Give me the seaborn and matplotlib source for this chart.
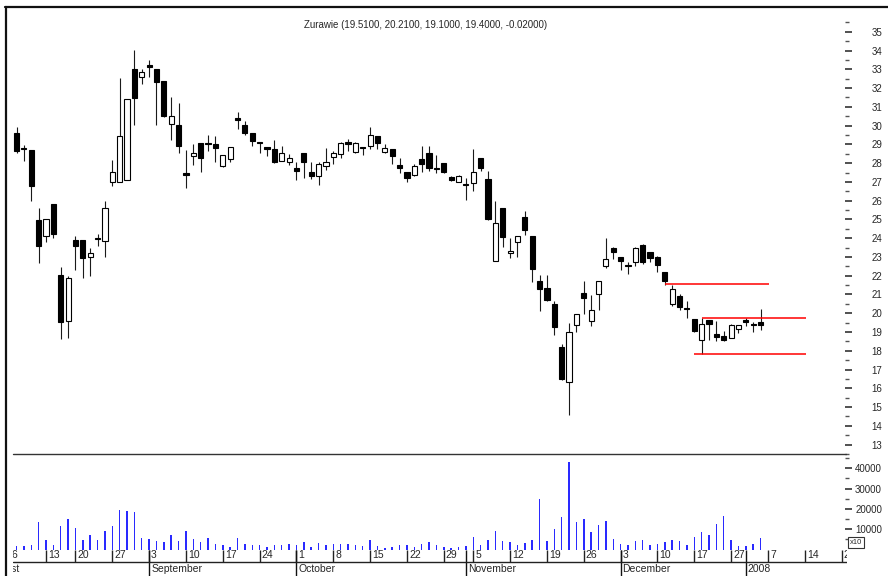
# Imports
import numpy as np
import pandas as pd
import matplotlib.pyplot as plt
import matplotlib.transforms as mtransforms
from matplotlib.lines import Line2D
import seaborn as sns

# daily candles, one per trading day (7 Aug 2007 .. 4 Jan 2008)
opens = [29.63, 28.80, 28.71, 24.98, 24.12, 25.83, 22.02, 19.60, 23.91, 23.91,
         23.01, 24.02, 23.85, 26.98, 26.98, 27.12, 33.04, 32.60, 33.25, 33.00,
         32.35, 30.11, 30.02, 27.42, 28.36, 29.08, 29.06, 29.01, 27.86, 28.22,
         30.43, 30.02, 29.60, 29.12, 28.87, 28.75, 28.13, 28.04, 27.72, 28.53,
         27.55, 27.30, 27.83, 28.31, 28.48, 29.06, 28.57, 28.85, 28.89, 29.42,
         28.60, 28.75, 27.92, 27.55, 27.39, 28.22, 28.53, 27.71, 27.99, 27.25,
         26.98, 26.86, 26.93, 28.25, 27.16, 22.80, 25.62, 23.22, 23.80, 25.13,
         24.12, 21.72, 21.33, 20.48, 18.20, 16.35, 19.39, 21.10, 19.60, 21.01,
         22.53, 23.50, 23.00, 22.55, 22.74, 23.62, 23.27, 23.00, 22.21, 20.48,
         20.94, 20.25, 19.70, 18.59, 19.65, 18.89, 18.77, 18.68, 19.15, 19.57,
         19.44, 19.51]
highs = [29.93, 28.96, 28.71, 25.60, 25.00, 25.83, 22.48, 22.00, 24.12, 23.91,
         23.48, 24.24, 25.99, 28.16, 32.51, 31.43, 34.05, 33.00, 33.52, 33.00,
         32.35, 31.50, 31.22, 28.70, 29.01, 29.08, 29.49, 29.45, 28.45, 28.87,
         30.72, 30.25, 29.60, 29.12, 28.87, 29.24, 28.89, 28.48, 28.08, 28.53,
         28.04, 28.04, 28.83, 28.66, 29.15, 29.28, 29.13, 28.85, 29.95, 29.42,
         29.01, 28.75, 28.30, 27.55, 27.95, 28.89, 28.89, 28.43, 27.99, 27.33,
         27.37, 27.19, 28.75, 28.25, 27.60, 25.97, 25.62, 24.03, 24.12, 25.44,
         24.12, 22.04, 22.04, 20.66, 18.36, 19.47, 19.95, 21.72, 20.97, 21.74,
         24.03, 23.54, 23.00, 22.71, 23.54, 23.71, 23.27, 23.06, 22.21, 21.50,
         21.01, 20.66, 19.70, 19.77, 19.65, 19.60, 19.07, 19.42, 19.35, 19.74,
         19.56, 20.21]
lows = [28.52, 28.13, 25.97, 22.69, 23.80, 24.01, 18.62, 18.68, 22.32, 21.89,
        22.00, 23.59, 23.00, 26.80, 26.98, 27.12, 30.02, 32.23, 32.60, 30.05,
        30.48, 29.22, 28.54, 26.68, 27.90, 27.51, 28.62, 28.04, 27.78, 28.04,
        29.81, 29.51, 28.92, 28.53, 28.36, 28.00, 28.09, 27.92, 27.12, 27.21,
        27.16, 26.84, 27.65, 27.95, 28.25, 28.62, 28.54, 28.43, 28.75, 28.75,
        28.53, 27.95, 27.47, 27.02, 27.33, 27.51, 27.60, 27.47, 27.47, 27.03,
        26.98, 26.04, 26.54, 27.60, 24.97, 22.80, 23.54, 22.97, 23.00, 24.15,
        21.68, 20.13, 20.66, 18.85, 16.47, 14.56, 18.98, 19.95, 19.33, 20.18,
        22.39, 22.88, 22.33, 22.07, 22.53, 22.65, 22.71, 22.21, 21.50, 20.41,
        20.18, 19.77, 19.00, 17.83, 18.59, 18.54, 18.54, 18.68, 18.94, 19.30,
        18.99, 19.10]
closes = [28.66, 28.76, 26.80, 23.61, 25.00, 24.22, 19.54, 21.86, 23.61, 22.92,
          23.20, 23.95, 25.60, 27.51, 29.45, 31.43, 31.45, 32.85, 33.13, 32.35,
          30.51, 30.50, 28.89, 27.38, 28.55, 28.30, 29.00, 28.83, 28.45, 28.87,
          30.28, 29.63, 29.19, 29.08, 28.75, 28.04, 28.53, 28.25, 27.60, 28.04,
          27.33, 27.95, 28.04, 28.53, 29.05, 29.04, 29.05, 28.81, 29.51, 29.05,
          28.78, 28.36, 27.74, 27.19, 27.86, 27.95, 27.74, 27.67, 27.55, 27.10,
          27.33, 26.82, 27.51, 27.72, 25.00, 24.82, 24.05, 23.32, 24.12, 24.45,
          22.35, 21.29, 20.71, 19.28, 16.52, 18.98, 19.95, 20.80, 20.18, 21.74,
          22.88, 23.24, 22.77, 22.51, 23.48, 22.74, 22.95, 22.56, 21.73, 21.30,
          20.36, 20.21, 19.07, 19.45, 19.42, 18.73, 18.55, 19.38, 19.35, 19.55,
          19.35, 19.40]
# volume as shown on the axis (x10)
volumes = [1640, 1640, 2460, 13300, 4600, 2460, 11800, 15100, 10700, 4600,
           6900, 4900, 9000, 11500, 19500, 19200, 18400, 5700, 5200, 4400,
           3900, 6900, 4400, 9300, 5200, 3900, 5700, 2800, 2000, 1150,
           5700, 2800, 2000, 2460, 1150, 2460, 2000, 2800, 2300, 3900,
           1150, 3300, 2000, 2800, 2800, 2800, 2300, 1640, 4900, 1640,
           500, 1150, 2000, 2300, 1150, 2800, 3900, 2000, 1300, 650,
           1150, 1640, 6400, 2000, 4760, 9200, 4270, 3900, 2300, 3400,
           4760, 25100, 4270, 10000, 16200, 43100, 13400, 14900, 8500, 12100,
           14100, 5200, 2600, 2000, 4270, 4600, 2300, 2600, 3600, 4600,
           4100, 2300, 6100, 8500, 7200, 12500, 16600, 4600, 1800, 1800,
           2600, 5600]

# date axis (positions in trading-day index)
week_pos = [-1, 4, 8, 13, 18, 23, 28, 33, 38, 43, 48, 53, 58, 62, 67, 72,
            77, 82, 87, 92, 97, 102, 107, 112]
week_labels = ['6', '13', '20', '27', '3', '10', '17', '24', '1', '8', '15',
               '22', '29', '5', '12', '19', '26', '3', '10', '17', '27', '7',
               '14', '21']
month_pos = [-4.2, 18, 38, 61, 82, 99]
month_labels = ['August', 'September', 'October', 'November', 'December', '2008']

# red support/resistance lines
line_levels = [21.54, 19.77, 17.81]
line_start = [88, 93, 92]
line_end = [102.2, 107.15, 107.15]

title = 'Zurawie (19.5100, 20.2100, 19.1000, 19.4000, -0.02000)'

#
sns.set_theme(style='white')
plt.rcParams['font.family'] = ['Liberation Sans', 'DejaVu Sans']

df = pd.DataFrame({'open': opens, 'high': highs, 'low': lows,
                   'close': closes, 'volume': volumes})
df['idx'] = np.arange(len(df))

W, H = 888, 576
fig = plt.figure(figsize=(W / 100, H / 100), dpi=100)

def fx(px):
    return px / W

def fy(py):
    return 1 - py / H

step = 7.367  # pixels per trading day
xlo, xhi = -1.36, 112.46
ax = fig.add_axes([fx(6.5), fy(454), fx(845 - 6.5), fy(7) - fy(454)])
axv = fig.add_axes([fx(6.5), fy(549.5), fx(845 - 6.5), fy(454) - fy(549.5)])
axd = fig.add_axes([fx(12.5), 0, fx(847 - 12.5), fy(549.5)])

# candles
up = df['close'] >= df['open']
ax.vlines(df['idx'], df['low'], df['high'], color='#1a1a1a', lw=0.8, zorder=1)
body_bot = df[['open', 'close']].min(axis=1)
body_h = (df['close'] - df['open']).abs().clip(lower=0.07)
ax.bar(df['idx'], body_h, bottom=body_bot, width=0.7,
       color=np.where(up, 'white', 'black'), edgecolor='black',
       linewidth=0.8, zorder=2)

for lvl, s, e in zip(line_levels, line_start, line_end):
    ax.hlines(lvl, s, e, color='#ff0000', lw=1.1, zorder=3)

ax.set_xlim(xlo, xhi)
ax.set_ylim(12.64, 36.32)
ax.set_xticks([])
ax.yaxis.tick_right()
ax.set_yticks(range(13, 36))
ax.set_yticks(np.arange(12.5, 36, 1), minor=True)
ax.tick_params(axis='y', which='major', right=True, length=5, width=1.2,
               color='#333333', pad=21.6, labelsize=7)
ax.tick_params(axis='y', which='minor', right=True, length=3, width=1.0,
               color='#555555')
plt.setp(ax.get_yticklabels(), ha='right')
for s in ax.spines.values():
    s.set_visible(False)
ax.text(0.5, 0.96, title, transform=ax.transAxes, ha='center', va='center',
        fontsize=7)

# volume
sns.barplot(data=df, x='idx', y='volume', native_scale=True, width=0.2,
            color='#2a2aff', saturation=1, errorbar=None, linewidth=0, ax=axv)
axv.set_xlim(xlo, xhi)
axv.set_ylim(0, 47040)
axv.set_xlabel('')
axv.set_ylabel('')
axv.set_xticks([])
axv.yaxis.tick_right()
axv.set_yticks([10000, 20000, 30000, 40000])
axv.set_yticks(np.arange(5000, 47000, 10000), minor=True)
axv.tick_params(axis='y', which='major', right=True, length=5, width=1.2,
                color='#333333', pad=21.6, labelsize=7)
axv.tick_params(axis='y', which='minor', right=True, length=3, width=1.0,
                color='#555555')
plt.setp(axv.get_yticklabels(), ha='right')
for s in axv.spines.values():
    s.set_visible(False)

# date axis
axd.set_xlim(xlo + (12.5 - 6.5) / step, xhi + 2 / step)
axd.set_ylim(0, 1)
axd.axis('off')
axd.vlines(week_pos, 0.528, 1, color='#222222', lw=1.0)
axd.vlines(month_pos, 0, 1, color='#111111', lw=1.0)
axd.axhline(0.528, color='#222222', lw=1.0)
trans = mtransforms.offset_copy(axd.get_xaxis_transform(), fig=fig,
                                x=2, y=0, units='dots')
for p, lab in zip(week_pos, week_labels):
    axd.text(p, 0.79, lab, transform=trans, ha='left', va='center',
             fontsize=7.5, clip_on=True)
for p, lab in zip(month_pos, month_labels):
    axd.text(p, 0.25, lab, transform=trans, ha='left', va='center',
             fontsize=7.5, clip_on=True)

# frame lines and panel separator
fig.add_artist(Line2D([fx(5), 1], [fy(7), fy(7)], color='#111111', lw=1.6))
fig.add_artist(Line2D([fx(6), fx(6)], [0, fy(7)], color='#111111', lw=1.6))
fig.add_artist(Line2D([fx(13), fx(846)], [fy(454), fy(454)], color='#333333', lw=1.0))

fig.text(fx(856), fy(542.5), 'x10', ha='center', va='center', fontsize=5.5,
         bbox=dict(boxstyle='square,pad=0.2', fc='white', ec='#333333', lw=0.8))

fig.savefig('out.png', dpi=100)
